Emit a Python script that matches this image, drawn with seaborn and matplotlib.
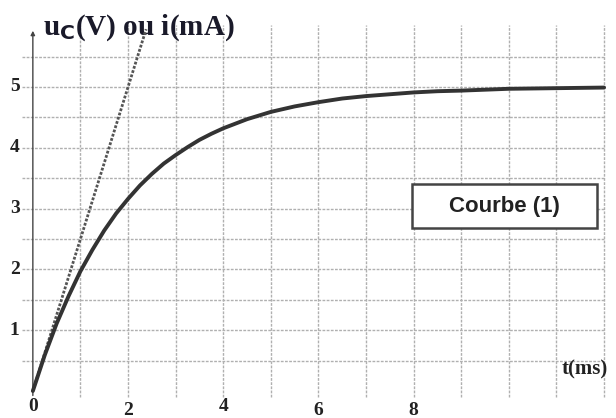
import numpy as np
import pandas as pd
import seaborn as sns
import matplotlib
matplotlib.use('Agg')
import matplotlib.pyplot as plt
from matplotlib.patches import Rectangle

# values
t_ms = [0, 0.25, 0.5, 0.75, 1, 1.25, 1.5, 1.75, 2, 2.25, 2.5, 2.75, 3, 3.25, 3.5,
        3.75, 4, 4.5, 5, 5.5, 6, 6.5, 7, 7.5, 8, 8.5, 9, 10, 11, 12]
u_c = [0, 0.59, 1.11, 1.56, 1.97, 2.32, 2.64, 2.92, 3.16, 3.38, 3.57, 3.74, 3.88,
       4.01, 4.13, 4.23, 4.32, 4.47, 4.59, 4.68, 4.75, 4.81, 4.85, 4.88, 4.91,
       4.93, 4.94, 4.97, 4.98, 4.99]
tangent_t = [0, 2.38]
tangent_u = [0, 5.95]
x_ticks = [0, 2, 4, 6, 8]
y_ticks = [1, 2, 3, 4, 5]

df = pd.DataFrame({'t': t_ms, 'u': u_c})
df_tan = pd.DataFrame({'t': tangent_t, 'u': tangent_u})

sns.set_style('white')
plt.rcParams['font.family'] = ['Liberation Serif', 'DejaVu Serif']

fig = plt.figure(figsize=(6.16, 4.18), dpi=100)
ax = fig.add_axes([0, 0, 1, 1])
ax.set_xlim(-0.69, 12.25)
ax.set_ylim(-0.444, 6.43)
ax.axis('off')

# grid
grid_kw = dict(color='#b0b0b0', lw=1.0, ls=(0, (2, 1)), zorder=1)
for x in range(1, 13):
    ax.plot([x, x], [-0.1, 6.02], **grid_kw)
for y in np.arange(0.5, 5.6, 0.5):
    ax.plot([-0.23, 12], [y, y], **grid_kw)

# axes with arrows
ax.annotate('', xy=(12.45, 0), xytext=(-0.25, 0),
            arrowprops=dict(arrowstyle='-|>', color='#222222', lw=1.3,
                            mutation_scale=12), zorder=3)
ax.annotate('', xy=(0, 5.97), xytext=(0, -0.12),
            arrowprops=dict(arrowstyle='-|>', color='#444444', lw=1.0,
                            mutation_scale=6), zorder=3)

# curves
sns.lineplot(data=df_tan, x='t', y='u', ax=ax, color='#555555', lw=2.0,
             ls=(0, (1, 0.6)), zorder=4)
sns.lineplot(data=df, x='t', y='u', ax=ax, color='#333333', lw=2.8, zorder=5)

# tick labels
for x in x_ticks:
    dy = -0.26 if x in (0, 4) else -0.32
    ax.text(x, dy, str(x), ha='center', va='center', fontsize=14,
            fontweight='bold', color='#222222')
for y in y_ticks:
    ax.text(-0.38, y, str(y), ha='center', va='center', fontsize=14,
            fontweight='bold', color='#222222')

ax.text(0.22, 5.98, r'u$_{\mathbf{C}}$(V) ou i(mA)', ha='left', va='center',
        fontsize=21, fontweight='bold', color='#1a1a2a')
ax.text(11.6, 0.35, 't(ms)', ha='center', va='center', fontsize=15,
        fontweight='bold', color='#222222')

ax.add_patch(Rectangle((7.97, 2.68), 3.88, 0.72, fc='white', ec='#444444',
                       lw=1.8, zorder=6))
ax.text(9.91, 3.04, 'Courbe (1)', ha='center', va='center', fontsize=16,
        fontweight='bold', family=['Liberation Sans', 'DejaVu Sans'],
        color='#222222', zorder=7)

fig.savefig('out.png', dpi=100)
